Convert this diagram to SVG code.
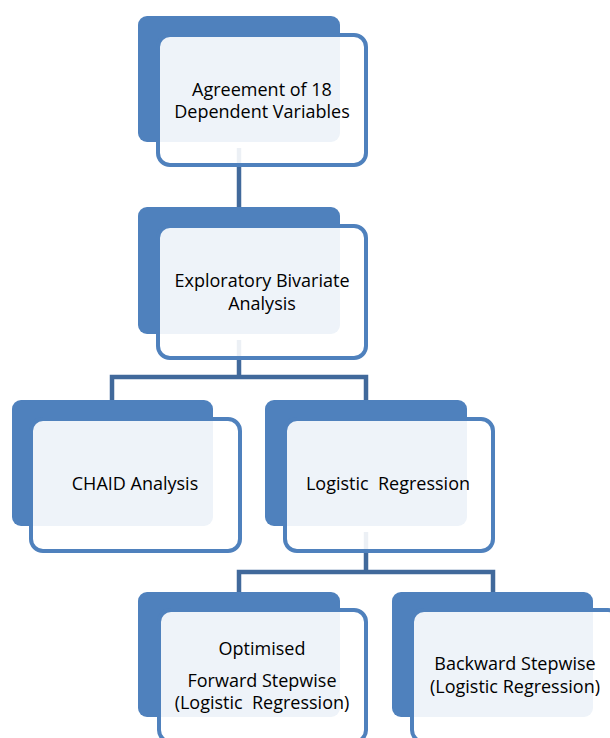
<svg xmlns="http://www.w3.org/2000/svg" width="610" height="738" viewBox="0 0 610 738">
<style>
.bk{fill:#4F81BD}
.fr{fill:#FFFFFF;fill-opacity:0.9;stroke:#4F81BD;stroke-width:4}
.cn{fill:none;stroke:#41699B;stroke-width:4.5}
text{font-family:"Open Sans","Liberation Sans",sans-serif;font-size:18px;fill:#000;text-anchor:middle}
</style>
<rect width="610" height="738" fill="#FFFFFF"/>
<g id="connectors">
<path class="cn" d="M239 148V226"/>
<path class="cn" d="M239 340V377M112 419V377H366V419"/>
<path class="cn" d="M366 532V572M239 610V572H493V610"/>
</g>
<g id="n1">
<rect class="bk" x="138" y="16" width="202" height="126" rx="9"/>
<rect class="fr" x="158" y="35" width="208" height="130" rx="12"/>
<text x="262" y="96">Agreement of 18</text>
<text x="262" y="118">Dependent Variables</text>
</g>
<g id="n2">
<rect class="bk" x="138" y="207" width="202" height="127" rx="9"/>
<rect class="fr" x="158" y="226" width="208" height="132" rx="12"/>
<text x="262" y="287">Exploratory Bivariate</text>
<text x="262" y="310">Analysis</text>
</g>
<g id="n3">
<rect class="bk" x="12" y="400" width="201" height="126" rx="9"/>
<rect class="fr" x="31" y="419" width="209" height="132" rx="12"/>
<text x="135" y="490">CHAID Analysis</text>
</g>
<g id="n4">
<rect class="bk" x="265" y="400" width="202" height="126" rx="9"/>
<rect class="fr" x="285" y="419" width="208" height="132" rx="12"/>
<text x="388" y="490" xml:space="preserve">Logistic  Regression</text>
</g>
<g id="n5">
<rect class="bk" x="138" y="592" width="202" height="125" rx="9"/>
<rect class="fr" x="159" y="610" width="207" height="132" rx="12"/>
<text x="262" y="655">Optimised</text>
<text x="262" y="687">Forward Stepwise</text>
<text x="262" y="709" xml:space="preserve">(Logistic  Regression)</text>
</g>
<g id="n6">
<rect class="bk" x="392" y="592" width="201" height="125" rx="9"/>
<rect class="fr" x="412" y="610" width="208" height="132" rx="12"/>
<text x="515" y="670">Backward Stepwise</text>
<text x="515" y="693">(Logistic Regression)</text>
</g>
</svg>
